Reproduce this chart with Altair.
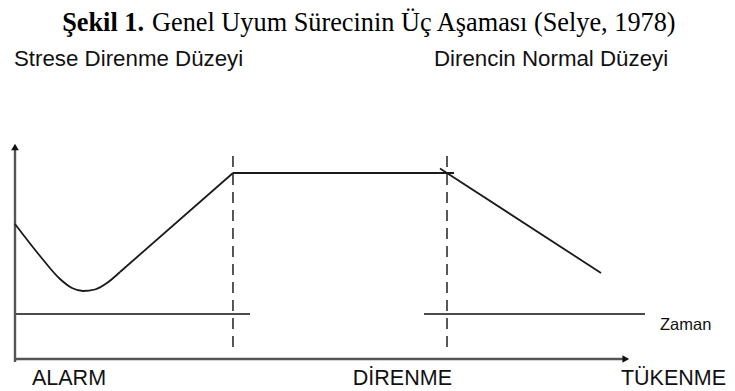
import altair as alt
import pandas as pd

# ---- data (time units on x, resistance level units on y) ----
dip_time = [0, 4.17, 7.5, 9.5, 11.33, 13.33, 15.33, 17.5]
dip_level = [67.5, 51.5, 40, 35.5, 34, 34.75, 38, 43.5]
rise_time = [17.5, 36.33]
rise_level = [43.5, 93]
plateau_time = [36.33, 73.17]
plateau_level = [93, 93]
decline_time = [70.83, 97.67]
decline_level = [95.25, 43]

phase_bounds = [36.33, 72]
dash_low = [6, 6]
dash_high = [104.5, 104.5]

normal_level = [22.5, 22.5]
normal_start = [0, 68.17]
normal_end = [39.17, 105]

axis_x_end = 101.8
axis_y_top = 106
axis_y_bottom = -1.5

title_bold = "Şekil 1."
title_rest = "Genel Uyum Sürecinin Üç Aşaması (Selye, 1978)"
sub_labels = ["Strese Direnme Düzeyi", "Direncin Normal Düzeyi"]
sub_time = [-0.17, 69.83]
sub_level = [146.5, 146.5]
phase_labels = ["ALARM", "DİRENME", "TÜKENME"]
phase_time = [2.83, 72.83, 118.5]
phase_level = [-12.75, -12.75, -12.75]
phase_align = ["left", "right", "right"]
time_label = "Zaman"

X = alt.Scale(domain=[-7 / 6, 712 / 6], nice=False, zero=False)
Y = alt.Scale(domain=[-16, 175.5], nice=False, zero=False)


def xe(f):
    return alt.X(f, type="quantitative", scale=X, axis=None)


def ye(f):
    return alt.Y(f, type="quantitative", scale=Y, axis=None)


axis_df = pd.DataFrame({
    "x": [0, 0], "x2": [0, axis_x_end],
    "y": [axis_y_bottom, 0], "y2": [axis_y_top, 0],
})
axes = alt.Chart(axis_df).mark_rule(color="#555555", strokeWidth=2.4).encode(
    x=xe("x"), x2="x2", y=ye("y"), y2="y2")

arrow_df = pd.DataFrame({
    "x": [0, axis_x_end], "y": [axis_y_top, 0],
    "shape": ["triangle-up", "triangle-right"],
})
arrows = alt.Chart(arrow_df).mark_point(filled=True, color="#111111", opacity=1, size=60).encode(
    x=xe("x"), y=ye("y"),
    shape=alt.Shape("shape:N", scale=None, legend=None))

normal_df = pd.DataFrame({"x": normal_start, "x2": normal_end, "y": normal_level})
normals = alt.Chart(normal_df).mark_rule(color="#111111", strokeWidth=1.6).encode(
    x=xe("x"), x2="x2", y=ye("y"))

dash_df = pd.DataFrame({"x": phase_bounds, "y": dash_low, "y2": dash_high})
dashes = alt.Chart(dash_df).mark_rule(color="#222222", strokeWidth=1.5, strokeDash=[11, 7]).encode(
    x=xe("x"), y=ye("y"), y2="y2")

dip_df = pd.DataFrame({"t": dip_time, "v": dip_level})
dip = alt.Chart(dip_df).mark_line(color="#1a1a1a", strokeWidth=1.8, interpolate="monotone").encode(
    x=xe("t"), y=ye("v"), order="t:Q")

lin_df = pd.DataFrame({
    "t": rise_time + plateau_time + decline_time,
    "v": rise_level + plateau_level + decline_level,
    "seg": ["rise"] * 2 + ["plateau"] * 2 + ["decline"] * 2,
})
lins = alt.Chart(lin_df).mark_line(color="#1a1a1a", strokeWidth=1.8).encode(
    x=xe("t"), y=ye("v"), detail="seg:N", order="t:Q")

title_df = pd.DataFrame({"t": [21.5, 22.83], "v": [164.25, 164.25],
                         "txt": [title_bold, title_rest]})
title_b = alt.Chart(title_df.iloc[[0]]).mark_text(
    font="Liberation Serif", fontSize=26.3, fontWeight="bold", align="right",
    baseline="alphabetic", color="#000000").encode(x=xe("t"), y=ye("v"), text="txt:N")
title_n = alt.Chart(title_df.iloc[[1]]).mark_text(
    font="Liberation Serif", fontSize=26.3, align="left",
    baseline="alphabetic", color="#000000").encode(x=xe("t"), y=ye("v"), text="txt:N")

sub_df = pd.DataFrame({"t": sub_time, "v": sub_level, "txt": sub_labels})
subs = alt.Chart(sub_df).mark_text(
    font="Liberation Sans", fontSize=22.3, align="left", baseline="alphabetic",
    color="#111111").encode(x=xe("t"), y=ye("v"), text="txt:N")

phase_df = pd.DataFrame({"t": phase_time, "v": phase_level, "txt": phase_labels, "al": phase_align})
phase_left = alt.Chart(phase_df[phase_df.al == "left"]).mark_text(
    font="Liberation Sans", fontSize=21.5, align="left", baseline="alphabetic",
    color="#111111").encode(x=xe("t"), y=ye("v"), text="txt:N")
phase_right = alt.Chart(phase_df[phase_df.al == "right"]).mark_text(
    font="Liberation Sans", fontSize=21.5, align="right", baseline="alphabetic",
    color="#111111").encode(x=xe("t"), y=ye("v"), text="txt:N")

zaman_df = pd.DataFrame({"t": [107.5], "v": [14.5], "txt": [time_label]})
zaman = alt.Chart(zaman_df).mark_text(
    font="Liberation Sans", fontSize=16.5, align="left", baseline="alphabetic",
    color="#111111").encode(x=xe("t"), y=ye("v"), text="txt:N")

chart = alt.layer(
    normals, dashes, axes, arrows, dip, lins,
    title_b, title_n, subs, phase_left, phase_right, zaman,
).properties(
    width=719, height=383, padding=0,
    autosize=alt.AutoSizeParams(type="none"),
    background="white",
).configure_view(stroke=None)

chart.save("out.html", embed_options={"renderer": "svg", "actions": False})
